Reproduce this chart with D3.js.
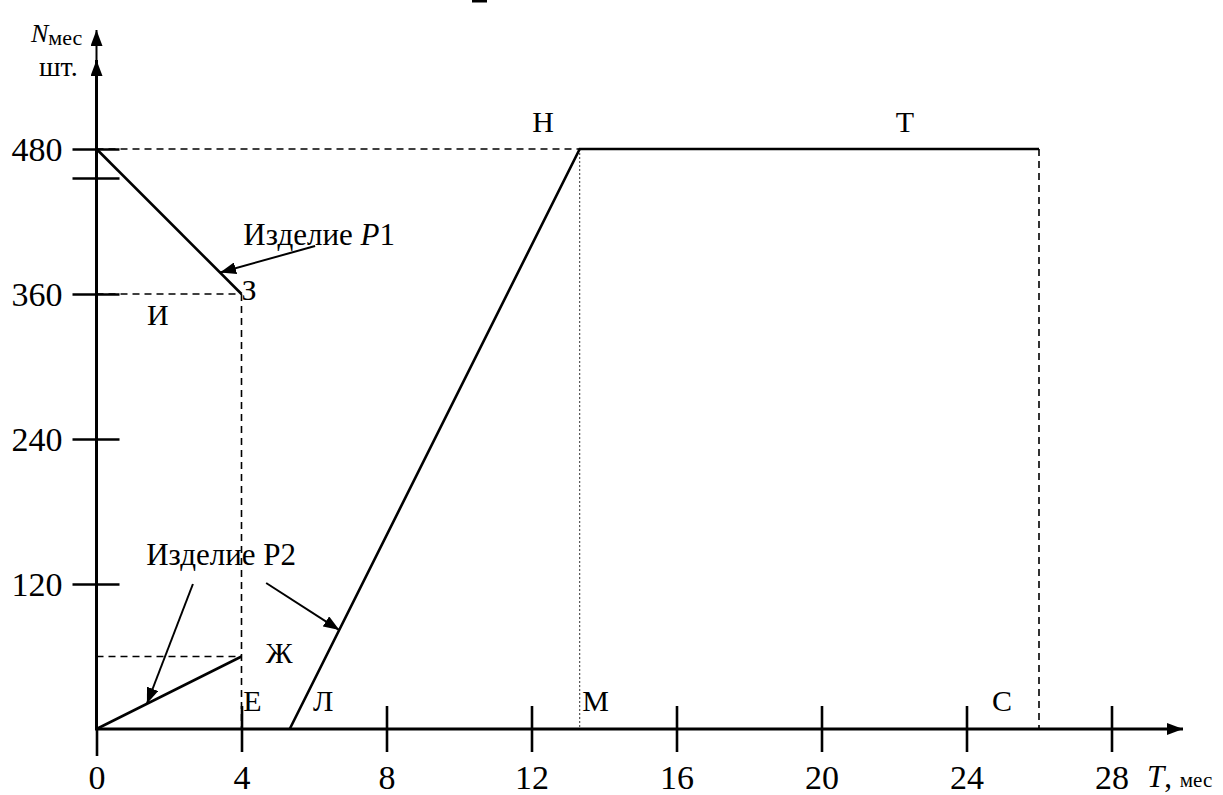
<!DOCTYPE html>
<html>
<head>
<meta charset="utf-8">
<script src="https://cdn.jsdelivr.net/npm/d3@7"></script>
<style>
  html, body { margin: 0; padding: 0; background: #fff; }
  svg { display: block; }
</style>
</head>
<body>
<svg id="chart" width="1223" height="795"></svg>
<script>
const SERIF = '"Liberation Serif"';

// Time axis (months) and quantity axis (pieces per month)
const xTickValues = [0, 4, 8, 12, 16, 20, 24, 28];
const yTickValues = [120, 240, 360, 480];
const yExtraTicks = [456];

// Product P1: output falls from 480 to 360 over the first 4 months
const p1Months = [0, 4];
const p1Values = [480, 360];

// Product P2: starts at 0 and reaches 60 by month 4
const p2Months = [0, 4];
const p2Values = [0, 60];

// Ramp-up of the new product Л → Н, then steady output Н → Т until month 26
const rampMonths = [5.33, 13.33, 26];
const rampValues = [0, 480, 480];

// Letter marks: [letter, month, value]
const pointLabels = [
  ["Н", 12.32, 480], ["Т", 22.3, 480],
  ["З", 4.0, 360], ["И", 1.39, 360],
  ["Ж", 4.67, 60],
  ["Е", 4.05, 0], ["Л", 5.97, 0], ["М", 13.4, 0], ["С", 24.7, 0]
];

// Callouts: text position, arrow start and arrow tip, all in (month, value)
const callouts = [
  { label: ["Изделие ", "P", "1"], at: [4.05, 400.5], from: [6.03, 399.7], to: [3.41, 377.8] },
  { label: ["Изделие Р2"], at: [1.37, 135.5], from: [2.66, 120.0], to: [1.39, 20.9] },
  { from: [4.68, 120.8], to: [6.70, 81.9] }
];

const svg = d3.select("#chart");
const x = d3.scaleLinear().domain([0, 28]).range([96.5, 1111.5]);
const y = d3.scaleLinear().domain([0, 480]).range([729, 149]);

const defs = svg.append("defs");
defs.append("marker")
  .attr("id", "head").attr("viewBox", "0 0 16 12")
  .attr("refX", 16).attr("refY", 6)
  .attr("markerWidth", 16).attr("markerHeight", 12)
  .attr("markerUnits", "userSpaceOnUse").attr("orient", "auto")
  .append("path").attr("d", "M0,0 L16,6 L0,12 Z").attr("fill", "#000");

const line = d3.line().x(d => x(d[0])).y(d => y(d[1]));

// ---- guide lines ----
const guides = svg.append("g").attr("fill", "none").attr("stroke", "#000");
const dashed = (pts) => guides.append("path").attr("d", line(pts))
  .attr("stroke-width", 1.6).attr("stroke-dasharray", "7,5");
dashed([[0, 480], [rampMonths[1], 480]]);
dashed([[0, 360], [4, 360]]);
dashed([[4, 360], [4, 0]]);
dashed([[0, 60], [4, 60]]);
dashed([[rampMonths[2], 480], [rampMonths[2], 0]]);
guides.append("path").attr("d", line([[rampMonths[1], 480], [rampMonths[1], 0]]))
  .attr("stroke-width", 1).attr("stroke", "#333").attr("stroke-dasharray", "2,2");

// ---- axes ----
const xAxis = svg.append("g").attr("transform", `translate(0,${y(0)})`)
  .call(d3.axisBottom(x).tickValues(xTickValues).tickSize(0).tickPadding(60).tickFormat(d3.format("d")));
xAxis.select(".domain").remove();
xAxis.selectAll(".tick text").attr("font-size", 34).attr("dy", 0)
  .style("font-family", SERIF).attr("fill", "#000");
xAxis.selectAll(".tick line").attr("stroke", "#000").attr("stroke-width", 2.6)
  .attr("y1", d => d === 0 ? 0 : -23).attr("y2", d => d === 0 ? 27 : 23);

const yAxis = svg.append("g").attr("transform", `translate(${x(0)},0)`)
  .call(d3.axisLeft(y).tickValues(yTickValues.concat(yExtraTicks)).tickSize(0).tickPadding(34)
    .tickFormat(d => yTickValues.includes(d) ? d : ""));
yAxis.select(".domain").remove();
yAxis.selectAll(".tick text").attr("font-size", 34).attr("dy", "0.34em")
  .style("font-family", SERIF).attr("fill", "#000");
yAxis.selectAll(".tick line").attr("stroke", "#000").attr("stroke-width", 2.6)
  .attr("x1", -24).attr("x2", 23);

// axis lines with arrows
svg.append("line").attr("x1", x(0)).attr("x2", 1183).attr("y1", y(0)).attr("y2", y(0))
  .attr("stroke", "#000").attr("stroke-width", 3).attr("marker-end", "url(#head)");
svg.append("line").attr("x1", x(0)).attr("x2", x(0)).attr("y1", y(0) + 1.5).attr("y2", 60)
  .attr("stroke", "#000").attr("stroke-width", 3).attr("marker-end", "url(#head)");
svg.append("line").attr("x1", x(0)).attr("x2", x(0)).attr("y1", 62).attr("y2", 30)
  .attr("stroke", "#000").attr("stroke-width", 2).attr("marker-end", "url(#head)");

// ---- data lines ----
const zip = (a, b) => a.map((v, i) => [v, b[i]]);
const series = svg.append("g").attr("fill", "none").attr("stroke", "#000")
  .attr("stroke-width", 2.6).attr("stroke-linejoin", "miter");
series.append("path").attr("d", line(zip(p1Months, p1Values)));
series.append("path").attr("d", line(zip(p2Months, p2Values)));
series.append("path").attr("d", line(zip(rampMonths, rampValues)));

// ---- callouts ----
const notes = svg.append("g");
callouts.forEach(c => {
  notes.append("line")
    .attr("x1", x(c.from[0])).attr("y1", y(c.from[1]))
    .attr("x2", x(c.to[0])).attr("y2", y(c.to[1]))
    .attr("stroke", "#000").attr("stroke-width", 2).attr("marker-end", "url(#head)");
  if (c.label) {
    const t = notes.append("text").attr("x", x(c.at[0])).attr("y", y(c.at[1]))
      .attr("font-size", 31).style("font-family", SERIF);
    c.label.forEach(part => {
      const s = t.append("tspan").text(part);
      if (part === "P") s.attr("font-style", "italic");
    });
  }
});

// ---- letter marks ----
const letterDy = { 480: -17, 360: 6, 60: 6.5, 0: -18 };
svg.append("g").selectAll("text").data(pointLabels).join("text")
  .attr("x", d => x(d[1])).attr("y", d => y(d[2]) + (d[0] === "И" ? 31 : letterDy[d[2]]))
  .attr("text-anchor", d => (d[0] === "Н" || d[0] === "Т") ? "middle" : "start")
  .attr("font-size", 30).style("font-family", SERIF)
  .text(d => d[0]);

// ---- axis titles ----
const yTitle = svg.append("text").attr("x", 31).attr("y", 42).attr("font-size", 26).style("font-family", SERIF);
yTitle.append("tspan").attr("font-style", "italic").text("N");
yTitle.append("tspan").attr("font-size", 22).attr("dy", 3).text("мес");
svg.append("text").attr("x", 39).attr("y", 76).attr("font-size", 28).style("font-family", SERIF).text("шт.");

const xTitle = svg.append("text").attr("x", 1147).attr("y", 787).attr("font-size", 31).style("font-family", SERIF);
xTitle.append("tspan").attr("font-style", "italic").text("T");
xTitle.append("tspan").text(", ");
xTitle.append("tspan").attr("font-size", 21).text("мес");

// short rule at the top edge
svg.append("line").attr("x1", 472).attr("x2", 487).attr("y1", 1).attr("y2", 1)
  .attr("stroke", "#000").attr("stroke-width", 3);
</script>
</body>
</html>
